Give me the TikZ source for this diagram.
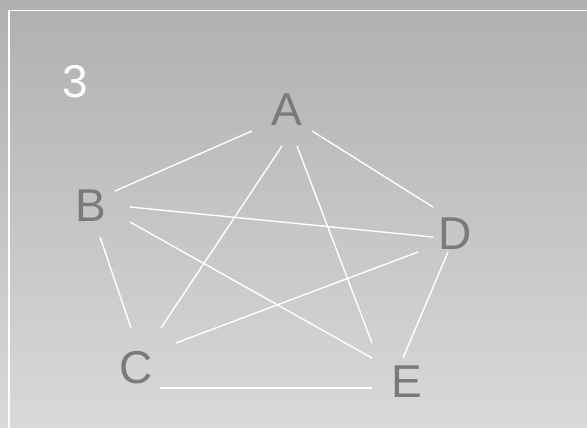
\documentclass[tikz,border=0pt]{standalone}
\usepackage{fontspec}
\setmainfont{Liberation Sans}

\begin{document}
\begin{tikzpicture}[x=1pt, y=-1pt,
        vertex/.style={text=black!52, inner sep=0pt, font=\fontsize{46}{50}\selectfont},
        edge/.style={draw=white, line width=1.4pt}
    ]
        \shade[top color=black!31, bottom color=black!15] (0,0) rectangle (587,428);
        \useasboundingbox (0,0) rectangle (587,428);
        \draw[white, line width=1.4pt] (9,428) -- (9,10.5) -- (587,10.5);

        \node[vertex, text=white] (num) at (75,82) {3};
        \node[vertex] (A) at (287,110) {A};
        \node[vertex] (B) at (91,206) {B};
        \node[vertex] (C) at (136,368) {C};
        \node[vertex] (D) at (455,234) {D};
        \node[vertex] (E) at (407,382) {E};

        \draw[edge] ([shift={(-35,21)}]A.center) -- ([shift={(24,-15)}]B.center);
        \draw[edge] ([shift={(25,21)}]A.center) -- ([shift={(-22,-27)}]D.center);
        \draw[edge] ([shift={(-5,36)}]A.center) -- ([shift={(25,-40)}]C.center);
        \draw[edge] ([shift={(10,36)}]A.center) -- ([shift={(-35,-39)}]E.center);
        \draw[edge] ([shift={(39,1)}]B.center) -- ([shift={(-22,3)}]D.center);
        \draw[edge] ([shift={(39,16)}]B.center) -- ([shift={(-35,-24)}]E.center);
        \draw[edge] ([shift={(9,31)}]B.center) -- ([shift={(-5,-40)}]C.center);
        \draw[edge] ([shift={(40,-25)}]C.center) -- ([shift={(-37,18)}]D.center);
        \draw[edge] ([shift={(24,20)}]C.center) -- ([shift={(-35,6)}]E.center);
        \draw[edge] ([shift={(-7,18)}]D.center) -- ([shift={(-4,-24)}]E.center);
    \end{tikzpicture}
\end{document}
